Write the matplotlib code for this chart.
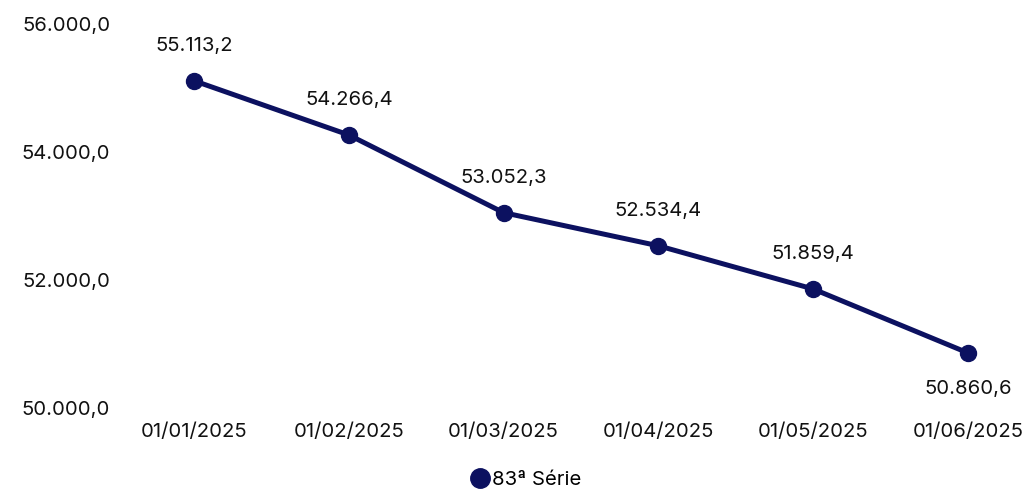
import matplotlib
matplotlib.use('Agg')
import matplotlib.pyplot as plt
from matplotlib.lines import Line2D

plt.rcParams['font.family'] = ['Inter', 'DejaVu Sans']

datas = ['01/01/2025', '01/02/2025', '01/03/2025', '01/04/2025', '01/05/2025', '01/06/2025']
valores = [55113.2, 54266.4, 53052.3, 52534.4, 51859.4, 50860.6]
yticks = [50000, 52000, 54000, 56000]
serie = '83ª Série'
cor = '#0c1160'
fs = 14.6


def fmt_br(v):
    # 55113.2 -> 55.113,2
    s = f'{v:,.1f}'
    return s.replace(',', 'X').replace('.', ',').replace('X', '.')


W, H = 1027, 493
fig = plt.figure(figsize=(W / 100, H / 100), dpi=100)
ax = fig.add_axes([120 / W, (H - 408) / H, 900 / W, (408 - 24) / H])

x = list(range(len(datas)))
ax.plot(x, valores, color=cor, linewidth=3.6, marker='o', markersize=11.5,
        solid_capstyle='round', zorder=3)

for i, v in enumerate(valores):
    dy = -26 if i == len(valores) - 1 else 25
    ax.annotate(fmt_br(v), (i, v), xytext=(0, dy), textcoords='offset points',
                ha='center', va='center', fontsize=fs, color='#111111')

ax.set_xlim(-0.478, 5.336)
ax.set_ylim(50000, 56000)
ax.set_xticks(x)
ax.set_xticklabels(datas)
ax.set_yticks(yticks)
ax.set_yticklabels([fmt_br(t) for t in yticks])
ax.tick_params(axis='both', length=0, labelsize=fs, colors='#111111')
ax.tick_params(axis='x', pad=11)
ax.tick_params(axis='y', pad=7)
for s in ax.spines.values():
    s.set_visible(False)

handle = Line2D([0], [0], marker='o', color='none', markerfacecolor=cor,
                markeredgecolor=cor, markersize=14, label=serie)
fig.legend(handles=[handle], loc='center', bbox_to_anchor=(525 / W, (H - 480) / H),
           frameon=False, fontsize=fs, handletextpad=0.05, handlelength=1.1)

fig.savefig('out.png', dpi=100)
